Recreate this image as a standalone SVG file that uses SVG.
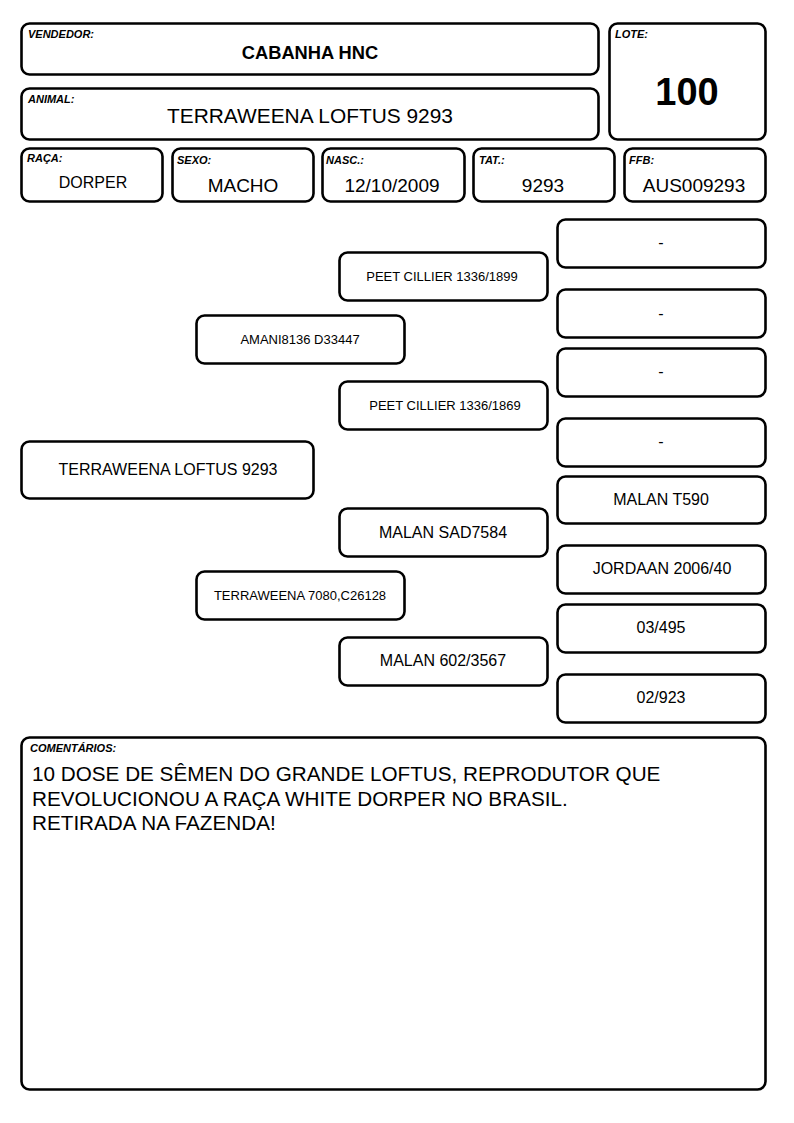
<svg xmlns="http://www.w3.org/2000/svg" width="794" height="1123" viewBox="0 0 794 1123">
<style>
.b{fill:#fff;stroke:#000;stroke-width:2.6}
.l{font-family:"Liberation Sans",Arial,sans-serif;font-size:11px;font-weight:bold;font-style:italic;fill:#000}
.t{font-family:"Liberation Sans",Arial,sans-serif;fill:#000;text-anchor:middle}
.c{font-family:"Liberation Sans",Arial,sans-serif;font-size:20.7px;fill:#000}
</style>
<rect width="794" height="1123" fill="#fff"/>
<g id="vendedor">
<rect class="b" x="21.5" y="23.5" width="577" height="51" rx="8"/>
<text class="l" x="28" y="38">VENDEDOR:</text>
<text class="t" x="310" y="59" font-size="18.3" font-weight="bold">CABANHA HNC</text>
</g>
<g id="animal">
<rect class="b" x="21.5" y="88.5" width="577" height="51" rx="8"/>
<text class="l" x="28" y="103">ANIMAL:</text>
<text class="t" x="310" y="123" font-size="20.9">TERRAWEENA LOFTUS 9293</text>
</g>
<g id="lote">
<rect class="b" x="609.5" y="23.5" width="156" height="116" rx="8"/>
<text class="l" x="615" y="38">LOTE:</text>
<text class="t" x="687" y="105" font-size="38" font-weight="bold">100</text>
</g>
<g id="raca">
<rect class="b" x="21.5" y="148.5" width="141" height="53" rx="8"/>
<text class="l" x="27" y="162">RAÇA:</text>
<text class="t" x="93" y="188" font-size="16">DORPER</text>
</g>
<g id="sexo">
<rect class="b" x="172.5" y="148.5" width="141" height="53" rx="8"/>
<text class="l" x="177" y="164">SEXO:</text>
<text class="t" x="243" y="192" font-size="19">MACHO</text>
</g>
<g id="nasc">
<rect class="b" x="322.5" y="148.5" width="142" height="53" rx="8"/>
<text class="l" x="326" y="164">NASC.:</text>
<text class="t" x="392" y="192" font-size="19">12/10/2009</text>
</g>
<g id="tat">
<rect class="b" x="473.5" y="148.5" width="141" height="53" rx="8"/>
<text class="l" x="479" y="164">TAT.:</text>
<text class="t" x="543" y="192" font-size="19">9293</text>
</g>
<g id="ffb">
<rect class="b" x="624.5" y="148.5" width="141" height="53" rx="8"/>
<text class="l" x="629" y="164">FFB:</text>
<text class="t" x="694" y="192" font-size="19">AUS009293</text>
</g>
<g id="connectors"></g>
<g id="p0">
<rect class="b" x="21.5" y="441.5" width="292" height="57" rx="8"/>
<text class="t" x="168" y="475" font-size="16">TERRAWEENA LOFTUS 9293</text>
</g>
<g id="p1">
<rect class="b" x="196.5" y="315.5" width="208" height="48" rx="8"/>
<text class="t" x="300" y="344" font-size="13">AMANI8136 D33447</text>
</g>
<g id="p2">
<rect class="b" x="196.5" y="571.5" width="208" height="48" rx="8"/>
<text class="t" x="300" y="600" font-size="13">TERRAWEENA 7080,C26128</text>
</g>
<g id="p3">
<rect class="b" x="339.5" y="252.5" width="208" height="48" rx="8"/>
<text class="t" x="442" y="281" font-size="13">PEET CILLIER 1336/1899</text>
</g>
<g id="p4">
<rect class="b" x="339.5" y="381.5" width="208" height="48" rx="8"/>
<text class="t" x="445" y="410" font-size="13">PEET CILLIER 1336/1869</text>
</g>
<g id="p5">
<rect class="b" x="339.5" y="508.5" width="208" height="48" rx="8"/>
<text class="t" x="443" y="538" font-size="16">MALAN SAD7584</text>
</g>
<g id="p6">
<rect class="b" x="339.5" y="637.5" width="208" height="48" rx="8"/>
<text class="t" x="443" y="666" font-size="16">MALAN 602/3567</text>
</g>
<g id="p7">
<rect class="b" x="557.5" y="219.5" width="208" height="48" rx="8"/>
<text class="t" x="661" y="248" font-size="16">-</text>
</g>
<g id="p8">
<rect class="b" x="557.5" y="289.5" width="208" height="48" rx="8"/>
<text class="t" x="661" y="319" font-size="16">-</text>
</g>
<g id="p9">
<rect class="b" x="557.5" y="348.5" width="208" height="48" rx="8"/>
<text class="t" x="661" y="377" font-size="16">-</text>
</g>
<g id="p10">
<rect class="b" x="557.5" y="418.5" width="208" height="48" rx="8"/>
<text class="t" x="661" y="447" font-size="16">-</text>
</g>
<g id="p11">
<rect class="b" x="557.5" y="476.5" width="208" height="47" rx="8"/>
<text class="t" x="661" y="505" font-size="16">MALAN T590</text>
</g>
<g id="p12">
<rect class="b" x="557.5" y="545.5" width="208" height="48" rx="8"/>
<text class="t" x="662" y="574" font-size="16">JORDAAN 2006/40</text>
</g>
<g id="p13">
<rect class="b" x="557.5" y="604.5" width="208" height="48" rx="8"/>
<text class="t" x="661" y="633" font-size="16">03/495</text>
</g>
<g id="p14">
<rect class="b" x="557.5" y="674.5" width="208" height="48" rx="8"/>
<text class="t" x="661" y="703" font-size="16">02/923</text>
</g>
<g id="comentarios">
<rect class="b" x="21.5" y="737.5" width="744" height="352" rx="8"/>
<text class="l" x="30" y="752">COMENTÁRIOS:</text>
<text class="c" x="32" y="781">10 DOSE DE SÊMEN DO GRANDE LOFTUS, REPRODUTOR QUE</text>
<text class="c" x="32" y="806">REVOLUCIONOU A RAÇA WHITE DORPER NO BRASIL.</text>
<text class="c" x="32" y="830">RETIRADA NA FAZENDA!</text>
</g>
</svg>
